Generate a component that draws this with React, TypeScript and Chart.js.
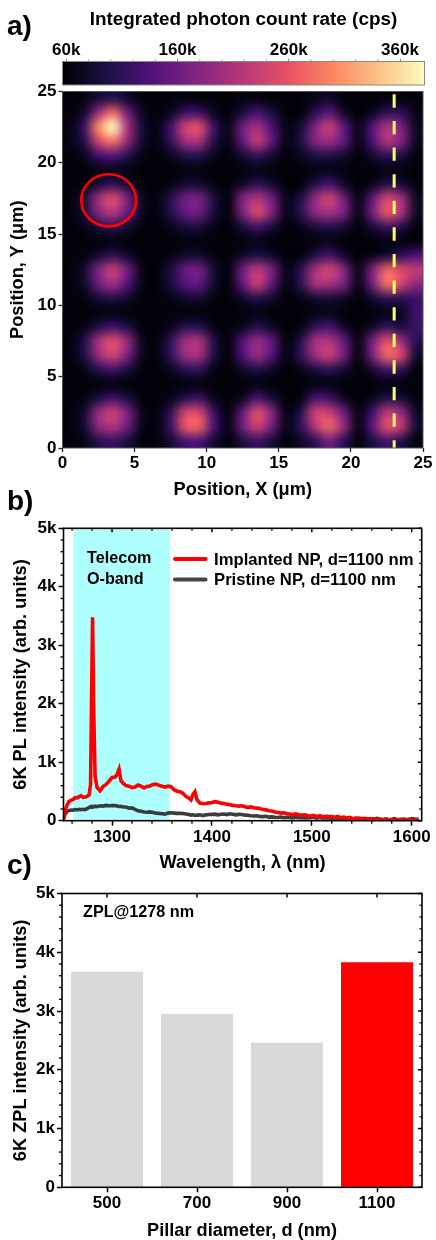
import React, { useEffect, useRef } from "react";
import { Chart, registerables } from "chart.js";

Chart.register(...registerables);

const FONT = "'Liberation Sans', Arial, sans-serif";
const W = 436;

// ---------- panel a data ----------
const colorMin = 56.6;
const colorMax = 382;
const colorTicks = [60, 160, 260, 360];
const colorMinor = [80, 100, 120, 140, 180, 200, 220, 240, 280, 300, 320, 340];
const magmaStops = [
  [0, 0, 4], [28, 16, 68], [81, 18, 124], [131, 38, 129], [183, 55, 121],
  [231, 82, 99], [252, 137, 97], [254, 194, 135], [252, 253, 191],
];
const mapTicks = [0, 5, 10, 15, 20, 25];
// count rate in kcps, 1 um cells, top row (y = 24-25) first, left to right
const countRate = [
  [60, 64, 90, 105, 80, 62, 60, 60, 62, 60, 60, 60, 64, 66, 60, 60, 60, 70, 78, 60, 60, 60, 62, 62, 60],
  [62, 82, 200, 280, 165, 75, 60, 75, 125, 125, 75, 60, 95, 130, 95, 62, 60, 105, 150, 80, 60, 75, 115, 110, 68],
  [64, 120, 305, 385, 210, 90, 62, 125, 240, 255, 120, 66, 165, 205, 135, 68, 85, 175, 235, 150, 68, 140, 215, 170, 75],
  [64, 100, 240, 285, 185, 85, 62, 110, 200, 205, 100, 66, 150, 230, 150, 66, 95, 175, 195, 150, 66, 135, 215, 175, 75],
  [60, 72, 125, 140, 105, 66, 60, 72, 100, 105, 70, 60, 85, 115, 85, 60, 72, 95, 100, 85, 60, 85, 110, 95, 62],
  [60, 60, 66, 70, 64, 60, 60, 60, 62, 62, 60, 60, 62, 66, 62, 60, 60, 64, 66, 62, 60, 60, 64, 62, 60],
  [60, 62, 90, 110, 85, 60, 60, 65, 85, 85, 64, 60, 80, 110, 85, 60, 60, 100, 130, 80, 60, 70, 105, 90, 60],
  [60, 95, 200, 255, 170, 78, 60, 105, 160, 170, 95, 62, 175, 215, 165, 68, 95, 190, 240, 165, 64, 150, 245, 200, 78],
  [60, 88, 180, 220, 155, 75, 60, 100, 155, 160, 90, 62, 170, 250, 175, 68, 105, 185, 205, 170, 66, 165, 265, 210, 78],
  [60, 66, 95, 110, 85, 60, 60, 70, 90, 90, 66, 60, 90, 125, 90, 60, 68, 90, 100, 85, 60, 90, 120, 100, 62],
  [60, 60, 60, 62, 60, 60, 60, 60, 60, 60, 60, 60, 62, 64, 60, 60, 60, 62, 68, 60, 60, 60, 64, 62, 60],
  [60, 62, 85, 110, 82, 60, 60, 64, 82, 85, 62, 60, 80, 100, 80, 60, 60, 100, 130, 80, 60, 68, 90, 110, 135],
  [60, 85, 175, 235, 160, 70, 60, 95, 155, 165, 88, 60, 165, 225, 170, 66, 105, 205, 245, 180, 66, 175, 275, 250, 225],
  [60, 80, 160, 200, 140, 68, 60, 90, 140, 150, 82, 60, 150, 235, 150, 64, 105, 205, 205, 170, 64, 165, 285, 240, 185],
  [60, 62, 90, 100, 82, 60, 60, 66, 82, 85, 62, 60, 80, 105, 82, 60, 66, 85, 90, 80, 60, 85, 115, 110, 120],
  [60, 60, 60, 62, 60, 60, 60, 60, 60, 60, 60, 60, 60, 64, 60, 60, 60, 62, 66, 60, 60, 60, 66, 70, 125],
  [60, 64, 100, 125, 98, 60, 60, 70, 105, 105, 65, 60, 70, 105, 78, 60, 62, 110, 130, 80, 60, 80, 115, 95, 120],
  [60, 100, 205, 255, 190, 75, 60, 110, 200, 210, 100, 60, 140, 190, 150, 62, 100, 205, 215, 155, 62, 170, 260, 195, 105],
  [60, 95, 195, 240, 170, 72, 60, 110, 195, 205, 95, 60, 135, 195, 140, 62, 110, 195, 235, 165, 62, 170, 278, 245, 85],
  [60, 68, 105, 125, 95, 60, 60, 72, 105, 110, 66, 60, 80, 100, 78, 60, 68, 95, 110, 85, 60, 85, 130, 110, 62],
  [60, 60, 60, 62, 60, 60, 60, 60, 62, 62, 60, 60, 60, 62, 60, 60, 60, 62, 64, 60, 60, 60, 62, 60, 60],
  [60, 62, 95, 125, 95, 60, 60, 68, 100, 120, 70, 60, 75, 130, 90, 60, 62, 130, 125, 75, 60, 70, 100, 88, 60],
  [60, 85, 195, 235, 170, 72, 60, 110, 240, 245, 120, 60, 155, 255, 180, 64, 100, 235, 235, 160, 64, 125, 225, 190, 78],
  [60, 85, 185, 215, 160, 70, 60, 120, 262, 272, 130, 64, 165, 235, 165, 66, 110, 215, 275, 190, 68, 145, 255, 225, 85],
  [60, 66, 105, 120, 95, 62, 60, 85, 130, 135, 85, 60, 95, 120, 90, 60, 76, 110, 165, 110, 60, 95, 130, 100, 62],
];
const lineScanX = [23, 23];
const lineScanY = [24.8, 0];
const circleCentre = [3.2, 17.37];
const circleRadii = [1.9, 1.83];

// ---------- panel b data ----------
const wavelengths = [
  1251, 1253, 1255, 1257, 1259, 1261, 1263, 1265, 1267, 1269,
  1271, 1273, 1275, 1277, 1278.5, 1279.5, 1280.5, 1281.5, 1283, 1285,
  1288, 1291, 1294, 1297, 1300, 1303, 1305, 1307, 1309, 1311,
  1314, 1317, 1320, 1323, 1326, 1329, 1332, 1335, 1338, 1341,
  1344, 1347, 1350, 1353, 1356, 1359, 1362, 1365, 1368, 1371,
  1374, 1377, 1379, 1381, 1383, 1385, 1388, 1391, 1394, 1397,
  1400, 1403, 1406, 1409, 1412, 1415, 1418, 1421, 1424, 1427,
  1430, 1433, 1436, 1439, 1442, 1445, 1448, 1451, 1454, 1457,
  1460, 1463, 1466, 1469, 1472, 1475, 1478, 1481, 1484, 1487,
  1490, 1493, 1496, 1499, 1502, 1505, 1508, 1511, 1514, 1517,
  1520, 1523, 1526, 1529, 1532, 1535, 1538, 1541, 1544, 1547,
  1550, 1553, 1556, 1559, 1562, 1565, 1568, 1571, 1574, 1577,
  1580, 1583, 1586, 1589, 1592, 1595, 1598, 1601, 1604, 1607,
];
const implanted = [
  10, 170, 270, 330, 350, 365, 395, 390, 410, 425,
  400, 405, 415, 440, 620, 2100, 3480, 2000, 760, 570,
  510, 585, 620, 675, 740, 745, 790, 880, 680, 640,
  600, 590, 565, 575, 610, 590, 560, 585, 595, 620,
  625, 605, 590, 575, 590, 580, 530, 505, 495, 465,
  415, 385, 355, 450, 495, 360, 300, 290, 295, 305,
  310, 325, 315, 300, 295, 280, 272, 262, 255, 250,
  255, 240, 225, 235, 220, 215, 208, 190, 185, 170,
  165, 150, 140, 130, 135, 120, 115, 105, 115, 100,
  95, 100, 85, 80, 90, 70, 85, 65, 75, 70,
  70, 60, 75, 50, 60, 45, 55, 35, 45, 30,
  40, 20, 35, 25, 30, 10, 25, 15, 20, 10,
  15, 5, 15, 20, 5, 10, 15, 5, 10, 15,
];
const pristine = [
  5, 110, 160, 175, 180, 178, 190, 185, 195, 188,
  195, 190, 205, 225, 240, 230, 245, 235, 250, 240,
  255, 250, 262, 255, 260, 258, 250, 242, 245, 235,
  235, 215, 220, 195, 170, 160, 150, 145, 150, 140,
  130, 125, 118, 112, 130, 135, 130, 125, 128, 122,
  115, 105, 95, 100, 90, 95, 100, 88, 100, 105,
  108, 112, 100, 110, 115, 105, 118, 110, 100, 108,
  105, 95, 92, 85, 80, 85, 72, 70, 75, 62,
  65, 58, 55, 62, 50, 58, 55, 48, 60, 52,
  55, 48, 52, 50, 58, 45, 60, 42, 50, 45,
  40, 50, 35, 48, 30, 42, 50, 30, 38, 45,
  28, 40, 25, 35, 20, 38, 28, 15, 30, 20,
  25, 35, 15, 25, 30, 18, 28, 35, 20, 30,
];
const oBand = [1261, 1358];
const wlTicks = [1300, 1400, 1500, 1600];
const wlMinor = [1260, 1280, 1320, 1340, 1360, 1380, 1420, 1440, 1460, 1480, 1520, 1540, 1560, 1580];
const kTicks = [0, 1000, 2000, 3000, 4000, 5000];
const kMinor = [200, 400, 600, 800, 1200, 1400, 1600, 1800, 2200, 2400, 2600, 2800, 3200, 3400, 3600, 3800, 4200, 4400, 4600, 4800];

// ---------- panel c data ----------
const diameters = ["500", "700", "900", "1100"];
const zplIntensity = [3670, 2950, 2460, 3830];
const barColours = ["#d9d9d9", "#d9d9d9", "#d9d9d9", "#ff0000"];

// ---------- helpers ----------
const TICK_FONT = { family: FONT, size: 17, weight: "bold" as const };
const TITLE_FONT = { family: FONT, size: 18.2, weight: "bold" as const, lineHeight: 1.2 };
const BIG_TITLE_FONT = { family: FONT, size: 18.9, weight: "bold" as const, lineHeight: 1.2 };
const kLabel = (v: number | string) => (Number(v) === 0 ? "0" : `${Number(v) / 1000}k`);

function magma(v: number): string {
  const t = Math.min(1, Math.max(0, (v - colorMin) / (colorMax - colorMin))) * (magmaStops.length - 1);
  const i = Math.min(magmaStops.length - 2, Math.floor(t));
  const f = t - i;
  const a = magmaStops[i];
  const b = magmaStops[i + 1];
  return `rgb(${a.map((c, k) => Math.round(c + (b[k] - c) * f)).join(",")})`;
}

function fixedBox(height: number, area: { left: number; top: number; right: number; bottom: number }) {
  return {
    layoutPadding: { left: 0, top: area.top, right: W - area.right, bottom: 0 },
    yFit: (s: any) => { s.width = area.left; },
    xFit: (s: any) => { s.height = height - area.bottom; },
  };
}

function framePlugin(o: {
  colour: string; width: number; tickColour?: string;
  xMajor?: number[]; xMinor?: number[]; yMajor?: number[]; yMinor?: number[];
  topMajor?: boolean; rightMajor?: boolean; categoryTop?: boolean;
}) {
  return {
    id: "frame",
    afterDatasetsDraw(chart: any) {
      const { ctx, chartArea: a, scales } = chart;
      ctx.save();
      ctx.strokeStyle = o.tickColour || o.colour;
      const seg = (x0: number, y0: number, x1: number, y1: number, w: number) => {
        ctx.lineWidth = w; ctx.beginPath(); ctx.moveTo(x0, y0); ctx.lineTo(x1, y1); ctx.stroke();
      };
      (o.xMinor || []).forEach((v) => {
        const x = scales.x.getPixelForValue(v);
        seg(x, a.bottom, x, a.bottom + 3, 1.3);
        if (o.topMajor) seg(x, a.top, x, a.top + 2.5, 1.3);
      });
      if (o.topMajor) {
        if (o.categoryTop) diameters.forEach((_, i) => {
          const x = scales.x.getPixelForValue(i);
          seg(x, a.top, x, a.top + 4, 1.5);
        });
        (o.xMajor || []).forEach((v) => {
          const x = scales.x.getPixelForValue(v);
          seg(x, a.top, x, a.top + 4, 1.5);
        });
      }
      (o.yMinor || []).forEach((v) => {
        const y = scales.y.getPixelForValue(v);
        seg(a.left, y, a.left - 3, y, 1.3);
        if (o.rightMajor) seg(a.right, y, a.right - 2.5, y, 1.3);
      });
      if (o.rightMajor) (o.yMajor || []).forEach((v) => {
        const y = scales.y.getPixelForValue(v);
        seg(a.right, y, a.right - 4, y, 1.5);
      });
      ctx.strokeStyle = o.colour;
      ctx.lineWidth = o.width;
      ctx.strokeRect(a.left, a.top, a.right - a.left, a.bottom - a.top);
      ctx.restore();
    },
  };
}

function labelsPlugin(top: number, items: { text: string; x: number; y: number; size: number }[]) {
  return {
    id: "labels",
    afterDraw(chart: any) {
      const { ctx } = chart;
      ctx.save();
      ctx.fillStyle = "#000";
      ctx.textBaseline = "alphabetic";
      items.forEach((t) => {
        ctx.font = `bold ${t.size}px ${FONT}`;
        ctx.fillText(t.text, t.x, t.y - top);
      });
      ctx.restore();
    },
  };
}

// ---------- chart configs ----------
function colorbarConfig(height: number) {
  const area = { left: 62.5, top: 61.5, right: 424.5, bottom: 85 };
  return {
    type: "scatter",
    data: { datasets: [{ data: [] }] },
    options: {
      animation: false, responsive: false,
      layout: { autoPadding: false, padding: { left: area.left, top: 0, right: W - area.right, bottom: height - area.bottom } },
      plugins: { legend: { display: false }, tooltip: { enabled: false } },
      scales: {
        y: { display: false, min: 0, max: 1 },
        x: {
          position: "top", min: colorMin, max: colorMax,
          afterBuildTicks: (s: any) => { s.ticks = colorTicks.map((value) => ({ value })); },
          afterFit: (s: any) => { s.height = area.top; },
          border: { display: false },
          grid: { drawOnChartArea: false, tickLength: 3, tickColor: "#888", tickWidth: 1 },
          ticks: { font: TICK_FONT, color: "#000", padding: -2, maxRotation: 0, callback: (v: number) => `${v}k` },
          title: { display: true, text: "Integrated photon count rate (cps)", font: BIG_TITLE_FONT, color: "#000", padding: { top: 8, bottom: 0 } },
        },
      },
    },
    plugins: [
      {
        id: "bar",
        beforeDatasetsDraw(chart: any) {
          const { ctx, chartArea: a, scales } = chart;
          for (let px = Math.floor(a.left); px < a.right; px += 1) {
            ctx.fillStyle = magma(scales.x.getValueForPixel(px + 0.5));
            ctx.fillRect(px, a.top, 1, a.bottom - a.top);
          }
          ctx.save();
          ctx.strokeStyle = "#999";
          ctx.lineWidth = 1;
          colorMinor.forEach((v) => {
            const x = scales.x.getPixelForValue(v);
            ctx.beginPath(); ctx.moveTo(x, a.top); ctx.lineTo(x, a.top - 2); ctx.stroke();
          });
          ctx.restore();
        },
      },
      framePlugin({ colour: "#888", width: 1 }),
    ],
  };
}

function mapConfig(height: number) {
  const area = { left: 62.5, top: 13.5, right: 423, bottom: 370 };
  const box = fixedBox(height, area);
  return {
    type: "scatter",
    data: {
      datasets: [{
        data: lineScanX.map((x, i) => ({ x, y: lineScanY[i] })),
        showLine: true, pointRadius: 0, borderColor: "#ffff5e", borderWidth: 3, borderDash: [13.3, 13.3],
      }],
    },
    options: {
      animation: false, responsive: false,
      layout: { autoPadding: false, padding: box.layoutPadding },
      plugins: { legend: { display: false }, tooltip: { enabled: false } },
      scales: {
        x: {
          min: 0, max: 25, afterFit: box.xFit,
          afterBuildTicks: (s: any) => { s.ticks = mapTicks.map((value) => ({ value })); },
          border: { display: false },
          grid: { drawOnChartArea: false, tickLength: 4, tickColor: "#222", tickWidth: 1.3 },
          ticks: { font: TICK_FONT, color: "#000", padding: 1, maxRotation: 0 },
          title: { display: true, text: "Position, X (μm)", font: TITLE_FONT, color: "#000", padding: 0 },
        },
        y: {
          min: 0, max: 25, afterFit: box.yFit,
          afterBuildTicks: (s: any) => { s.ticks = mapTicks.map((value) => ({ value })); },
          border: { display: false },
          grid: { drawOnChartArea: false, tickLength: 4, tickColor: "#222", tickWidth: 1.3 },
          ticks: { font: TICK_FONT, color: "#000", padding: 2 },
          title: { display: true, text: "Position, Y (μm)", font: TITLE_FONT, color: "#000", padding: { top: 7, bottom: 0 } },
        },
      },
    },
    plugins: [
      {
        id: "heat",
        beforeDatasetsDraw(chart: any) {
          const { ctx, scales } = chart;
          const rows = countRate.length;
          const cols = countRate[0].length;
          const off = document.createElement("canvas");
          off.width = cols; off.height = rows;
          const oc = off.getContext("2d")!;
          countRate.forEach((row, r) => row.forEach((v, c) => {
            oc.fillStyle = magma(v);
            oc.fillRect(c, r, 1, 1);
          }));
          const x0 = scales.x.getPixelForValue(0);
          const y0 = scales.y.getPixelForValue(25);
          ctx.save();
          ctx.imageSmoothingEnabled = true;
          ctx.imageSmoothingQuality = "high";
          ctx.drawImage(off, x0, y0, scales.x.getPixelForValue(25) - x0, scales.y.getPixelForValue(0) - y0);
          ctx.restore();
        },
        afterDatasetsDraw(chart: any) {
          const { ctx, scales } = chart;
          const cx = scales.x.getPixelForValue(circleCentre[0]);
          const cy = scales.y.getPixelForValue(circleCentre[1]);
          const rx = scales.x.getPixelForValue(circleCentre[0] + circleRadii[0]) - cx;
          const ry = cy - scales.y.getPixelForValue(circleCentre[1] + circleRadii[1]);
          ctx.save();
          ctx.strokeStyle = "#ff0000";
          ctx.lineWidth = 2.6;
          ctx.beginPath();
          ctx.ellipse(cx, cy, rx, ry, 0, 0, Math.PI * 2);
          ctx.stroke();
          ctx.restore();
        },
      },
      framePlugin({ colour: "#555", width: 1 }),
    ],
  };
}

function spectraConfig(top: number, height: number) {
  const area = { left: 63.5, top: 528.3 - top, right: 421.7, bottom: 820.7 - top };
  const box = fixedBox(height, area);
  return {
    type: "line",
    data: {
      datasets: [
        { label: "Implanted NP, d=1100 nm", data: wavelengths.map((x, i) => ({ x, y: implanted[i] })), borderColor: "#ff0000", borderWidth: 3.6, pointRadius: 0, tension: 0 },
        { label: "Pristine NP, d=1100 nm", data: wavelengths.map((x, i) => ({ x, y: pristine[i] })), borderColor: "rgba(45,45,45,0.92)", borderWidth: 3.6, pointRadius: 0, tension: 0 },
      ],
    },
    options: {
      animation: false, responsive: false,
      layout: { autoPadding: false, padding: box.layoutPadding },
      plugins: { legend: { display: false }, tooltip: { enabled: false } },
      scales: {
        x: {
          type: "linear", min: 1251.4, max: 1610, afterFit: box.xFit,
          afterBuildTicks: (s: any) => { s.ticks = wlTicks.map((value) => ({ value })); },
          border: { display: false },
          grid: { drawOnChartArea: false, tickLength: 5, tickColor: "#000", tickWidth: 1.5 },
          ticks: { font: TICK_FONT, color: "#000", padding: 1, maxRotation: 0, callback: (v: number) => String(v) },
          title: { display: true, text: "Wavelength, λ (nm)", font: TITLE_FONT, color: "#000", padding: 0 },
        },
        y: {
          min: 0, max: 5000, afterFit: box.yFit,
          afterBuildTicks: (s: any) => { s.ticks = kTicks.map((value) => ({ value })); },
          border: { display: false },
          grid: { drawOnChartArea: false, tickLength: 5, tickColor: "#000", tickWidth: 1.5 },
          ticks: { font: TICK_FONT, color: "#000", padding: 2, callback: kLabel },
          title: { display: true, text: "6K PL intensity (arb. units)", font: TITLE_FONT, color: "#000", padding: { top: 10, bottom: 0 } },
        },
      },
    },
    plugins: [
      {
        id: "band",
        beforeDatasetsDraw(chart: any) {
          const { ctx, chartArea: a, scales } = chart;
          const x0 = scales.x.getPixelForValue(oBand[0]);
          ctx.fillStyle = "#afffff";
          ctx.fillRect(x0, a.top, scales.x.getPixelForValue(oBand[1]) - x0, a.bottom - a.top);
        },
        afterDatasetsDraw(chart: any) {
          const { ctx } = chart;
          ctx.save();
          ctx.lineWidth = 4;
          ctx.lineCap = "round";
          [[559, "#ff0000"], [579.5, "#444444"]].forEach(([y, c]: any) => {
            ctx.strokeStyle = c;
            ctx.beginPath(); ctx.moveTo(175, y - top); ctx.lineTo(205.5, y - top); ctx.stroke();
          });
          ctx.restore();
        },
      },
      framePlugin({ colour: "#000", width: 1.6, xMajor: wlTicks, xMinor: wlMinor, yMajor: kTicks, yMinor: kMinor, topMajor: true, rightMajor: true }),
      labelsPlugin(top, [
        { text: "Telecom", x: 87, y: 563, size: 16.2 },
        { text: "O-band", x: 87, y: 583.5, size: 16.2 },
        { text: "Implanted NP, d=1100 nm", x: 214, y: 564.5, size: 16.7 },
        { text: "Pristine NP, d=1100 nm", x: 214, y: 585, size: 16.7 },
      ]),
    ],
  };
}

function barsConfig(top: number, height: number) {
  const area = { left: 62, top: 893.5 - top, right: 422, bottom: 1187.3 - top };
  const box = fixedBox(height, area);
  return {
    type: "bar",
    data: {
      labels: diameters,
      datasets: [{ data: zplIntensity, backgroundColor: barColours, barPercentage: 0.8, categoryPercentage: 1 }],
    },
    options: {
      animation: false, responsive: false,
      layout: { autoPadding: false, padding: box.layoutPadding },
      plugins: { legend: { display: false }, tooltip: { enabled: false } },
      scales: {
        x: {
          afterFit: box.xFit,
          border: { display: false },
          grid: { offset: false, drawOnChartArea: false, tickLength: 5, tickColor: "#000", tickWidth: 1.5 },
          ticks: { font: TICK_FONT, color: "#000", padding: 1, maxRotation: 0 },
          title: { display: true, text: "Pillar diameter, d (nm)", font: TITLE_FONT, color: "#000", padding: 0 },
        },
        y: {
          min: 0, max: 5000, afterFit: box.yFit,
          afterBuildTicks: (s: any) => { s.ticks = kTicks.map((value) => ({ value })); },
          border: { display: false },
          grid: { drawOnChartArea: false, tickLength: 5, tickColor: "#000", tickWidth: 1.5 },
          ticks: { font: TICK_FONT, color: "#000", padding: 2, callback: kLabel },
          title: { display: true, text: "6K ZPL intensity (arb. units)", font: TITLE_FONT, color: "#000", padding: { top: 10, bottom: 0 } },
        },
      },
    },
    plugins: [
      framePlugin({ colour: "#000", width: 1.6, yMajor: kTicks, yMinor: kMinor, topMajor: true, categoryTop: true, rightMajor: true }),
      labelsPlugin(top, [{ text: "ZPL@1278 nm", x: 83, y: 917, size: 16.2 }]),
    ],
  };
}

function Panel({ top, height, make }: { top: number; height: number; make: () => any }) {
  const ref = useRef<HTMLCanvasElement>(null);
  useEffect(() => {
    const chart = new Chart(ref.current!, make());
    return () => chart.destroy();
  }, []);
  return (
    <canvas
      ref={ref}
      width={W}
      height={height}
      style={{ position: "absolute", left: 0, top, width: W, height, display: "block" }}
    />
  );
}

const panelLetter: React.CSSProperties = {
  position: "absolute", left: 7, fontFamily: FONT, fontWeight: "bold", fontSize: 28, lineHeight: "30px", color: "#000",
};

export default function App() {
  return (
    <div style={{ position: "absolute", left: 0, top: 0, width: W, height: 1240, overflow: "hidden", background: "#fff" }}>
      <Panel top={0} height={90} make={() => colorbarConfig(90)} />
      <Panel top={78} height={423} make={() => mapConfig(423)} />
      <Panel top={515} height={359} make={() => spectraConfig(515, 359)} />
      <Panel top={880} height={362} make={() => barsConfig(880, 362)} />
      <div style={{ ...panelLetter, top: 11 }}>a)</div>
      <div style={{ ...panelLetter, top: 486 }}>b)</div>
      <div style={{ ...panelLetter, top: 850 }}>c)</div>
    </div>
  );
}
